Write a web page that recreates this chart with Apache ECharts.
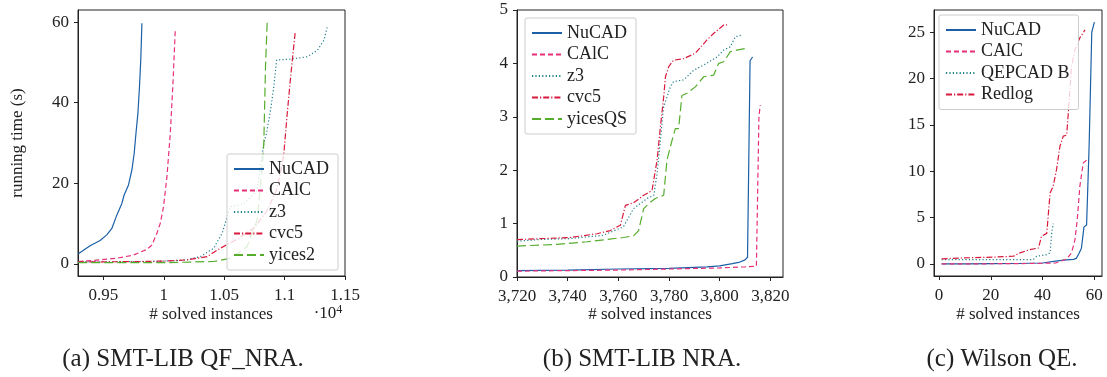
<!DOCTYPE html>
<html>
<head>
<meta charset="utf-8">
<script src="https://cdn.jsdelivr.net/npm/echarts@6/dist/echarts.min.js"></script>
<style>
  html, body { margin: 0; padding: 0; background: #fff; }
  #chart { width: 1107px; height: 377px; }
</style>
</head>
<body>
<div id="chart"></div>
<script>
// (a) SMT-LIB QF_NRA
const qfnraNuCAD = [[9293,2.5],[9390,4.5],[9473,5.8],[9528,7.2],[9570,8.8],[9611,12.1],[9653,15],[9672,17.1],[9708,19.6],[9736,23.3],[9755,27.4],[9771,32.8],[9786,37.4],[9799,44],[9810,51],[9819,59.7]]
const qfnraCAlC = [[9292,0.6],[9473,1.0],[9611,1.4],[9749,2.2],[9860,3.6],[9902,4.7],[9943,7.6],[9971,10.1],[9998,14.2],[10026,21.6],[10054,32.4],[10076,44.8],[10095,58.0]]
const qfnraZ3 = [[9292,0.5],[9600,0.55],[9900,0.6],[10100,0.8],[10200,1.1],[10303,1.8],[10413,3.9],[10483,7.6],[10524,11.7],[10552,14.2],[10662,14.9],[10773,18.3],[10828,29.9],[10850,32.4],[10884,38.2],[10911,44],[10934,50.6],[11050,50.8],[11188,51.4],[11271,53],[11326,55.5],[11356,59.2]]
const qfnraCvc5 = [[9292,0.5],[9700,0.55],[10000,0.7],[10192,1.0],[10358,1.8],[10469,3.9],[10600,6],[10750,9],[10850,13],[10930,18],[10970,23],[10994,27.4],[11022,37.4],[11050,46.4],[11064,50.6],[11088,57.5]]
const qfnraYices2 = [[9292,0.3],[10000,0.3],[10413,0.6],[10552,1.4],[10690,4.3],[10773,10.9],[10815,24.1],[10828,29.9],[10842,48.9],[10856,60.1]]
const qfnraXTicks = [9500, 10000, 10500, 11000, 11500]
const qfnraYTicks = [0, 20, 40, 60]

// (b) SMT-LIB NRA
const nraNuCAD = [[3720,0.12],[3740,0.13],[3760,0.15],[3780,0.16],[3795,0.19],[3800,0.21],[3805,0.25],[3808,0.28],[3810,0.32],[3811,0.37],[3812,4.05],[3813,4.12]]
const nraCAlC = [[3720,0.11],[3760,0.13],[3790,0.16],[3800,0.17],[3810,0.19],[3814.5,0.2],[3815.5,3.0],[3816,3.22]]
const nraZ3 = [[3720,0.67],[3728,0.7],[3741,0.72],[3754,0.78],[3762,0.94],[3763.4,1.06],[3766,1.28],[3771.3,1.47],[3774,1.53],[3775.3,1.94],[3776.6,2.56],[3777.9,3.19],[3779.2,3.37],[3780.5,3.56],[3781.8,3.66],[3785.8,3.69],[3789.7,3.87],[3793.7,3.97],[3799,4.12],[3801.6,4.25],[3804.2,4.31],[3806.2,4.5],[3808.8,4.53]]
const nraCvc5 = [[3720,0.7],[3741,0.74],[3751.6,0.81],[3756.8,0.87],[3760.8,0.97],[3762.8,1.34],[3766,1.39],[3770,1.53],[3773.3,1.62],[3775.3,2.19],[3776.6,2.81],[3777.9,3.37],[3778.6,3.75],[3779.9,3.94],[3781.8,4.06],[3785.8,4.09],[3790.4,4.19],[3795,4.44],[3797.6,4.56],[3801.6,4.72],[3802.9,4.72]]
const nraYicesQS = [[3720,0.58],[3735.8,0.61],[3747.6,0.66],[3762,0.74],[3766,0.77],[3768,0.87],[3770,1.28],[3772.6,1.4],[3774.6,1.47],[3777.9,1.53],[3779.2,2.19],[3781.2,2.56],[3782.5,2.78],[3783.8,2.78],[3785.1,3.4],[3787.1,3.44],[3790.4,3.56],[3793.7,3.75],[3797.6,3.78],[3799.6,4.0],[3801.6,4.03],[3804.2,4.22],[3806.8,4.25],[3810.1,4.28]]
const nraXTicks = [3720, 3740, 3760, 3780, 3800, 3820]

// (c) Wilson QE
const wilsonNuCAD = [[1,0],[10,0.01],[20,0.03],[30,0.05],[40,0.1],[45,0.3],[48,0.42],[52,0.5],[53,0.6],[54,1.1],[55,1.7],[56,4.0],[57,4.2],[58,13],[59,25],[60,26.1]]
const wilsonCAlC = [[1,0],[20,0.02],[35,0.05],[45,0.1],[47,0.3],[49.3,0.54],[51.2,1.2],[52.5,2.6],[53.4,4.8],[54.4,8.4],[55.7,10.9],[57,11.2]]
const wilsonQEPCAD = [[1,0.47],[20,0.47],[36.4,0.47],[37.7,0.83],[41.6,1.0],[42.9,1.2],[43.5,3.3],[44.1,4.35]]
const wilsonRedlog = [[1,0.55],[9.4,0.65],[22.3,0.75],[28.7,0.83],[31.3,1.2],[35.1,1.55],[38.4,1.72],[39.6,3.0],[41.6,3.3],[42.9,7.65],[44.1,8.4],[45.4,10.2],[46.7,12.7],[48,13.8],[49.3,13.9],[50.3,17.7],[51.2,21.3],[52.5,23.1],[54.4,24.4],[56.4,25.25]]
const wilsonXTicks = [0, 20, 40, 60]
const wilsonYTicks = [0, 5, 10, 15, 20, 25]

const FONT = "Liberation Serif"
const INK = "#222"
const styles = {
  NuCAD: { color: "#1b5fa7", type: "solid" },
  CAlC: { color: "#e6307a", type: [5, 3] },
  z3: { color: "#20808a", type: [1.2, 2.2] },
  cvc5: { color: "#d81a3c", type: [6, 2, 1.2, 2] },
  yices: { color: "#55ad2c", type: [9, 4] },
}

const chart = echarts.init(document.getElementById("chart"))

const mkSeries = (name, data, idx, style) => ({
  name,
  type: "line",
  data,
  xAxisIndex: idx,
  yAxisIndex: idx,
  symbol: "none",
  clip: true,
  lineStyle: { color: style.color, type: style.type, width: 1.2 },
  itemStyle: { color: style.color },
})

const mkLegend = (left, top, names) => ({
  orient: "vertical",
  left,
  top,
  data: names,
  itemWidth: 30,
  itemHeight: 14,
  itemGap: 3.5,
  padding: [6, 9, 6, 6],
  backgroundColor: "rgba(255,255,255,0.8)",
  borderColor: "#cccccc",
  borderWidth: 1,
  borderRadius: 2,
  selectedMode: false,
  // hide the marker dot, keep only the line sample
  itemStyle: { color: "rgba(0,0,0,0)", borderWidth: 0, opacity: 0 },
  textStyle: { fontFamily: FONT, fontSize: 18, color: INK, lineHeight: 16 },
})

const axisCommon = {
  type: "value",
  axisLine: { show: true, onZero: false, lineStyle: { color: INK, width: 1 } },
  axisTick: { show: true, inside: false, length: 4, lineStyle: { color: INK } },
  splitLine: { show: false },
}

const mkX = (idx, min, max, ticks, fmt) => ({
  ...axisCommon,
  gridIndex: idx,
  min,
  max,
  axisTick: { ...axisCommon.axisTick, customValues: ticks },
  axisLabel: {
    customValues: ticks,
    formatter: fmt,
    margin: 11,
    fontFamily: FONT,
    fontSize: 17,
    color: INK,
  },
})

const mkY = (idx, min, max, ticks) => ({
  ...axisCommon,
  gridIndex: idx,
  min,
  max,
  axisTick: { ...axisCommon.axisTick, customValues: ticks },
  axisLabel: {
    customValues: ticks,
    margin: 9,
    fontFamily: FONT,
    fontSize: 17,
    color: INK,
  },
})

const textEl = (x, y, text, size, extra) => ({
  type: "text",
  x,
  y,
  ...(extra || {}),
  style: {
    text,
    fontFamily: FONT,
    fontSize: size,
    fill: INK,
    textAlign: "center",
    textVerticalAlign: "middle",
  },
})

const option = {
  animation: false,
  backgroundColor: "#fff",
  grid: [
    { left: 78, top: 10, width: 267, height: 266, show: true, borderColor: INK, borderWidth: 1, backgroundColor: "transparent" },
    { left: 517, top: 10, width: 266, height: 267, show: true, borderColor: INK, borderWidth: 1, backgroundColor: "transparent" },
    { left: 934, top: 10, width: 168, height: 266, show: true, borderColor: INK, borderWidth: 1, backgroundColor: "transparent" },
  ],
  xAxis: [
    mkX(0, 9290, 11500, qfnraXTicks, (v) => String(+(v / 10000).toFixed(2))),
    mkX(1, 3720, 3825, nraXTicks, (v) => v.toLocaleString("en-US")),
    mkX(2, -1.95, 62.95, wilsonXTicks, (v) => String(v)),
  ],
  yAxis: [
    mkY(0, -3, 63, qfnraYTicks),
    mkY(1, 0, 5, [0, 1, 2, 3, 4, 5]),
    mkY(2, -1.3, 27.4, wilsonYTicks),
  ],
  legend: [
    mkLegend(227, 154, ["NuCAD", "CAlC", "z3", "cvc5", "yices2"]),
    mkLegend(525, 18, ["NuCAD", "CAlC", "z3", "cvc5", "yicesQS"]),
    mkLegend(939, 15, ["NuCAD", "CAlC", "QEPCAD B", "Redlog"]),
  ],
  series: [
    mkSeries("NuCAD", qfnraNuCAD, 0, styles.NuCAD),
    mkSeries("CAlC", qfnraCAlC, 0, styles.CAlC),
    mkSeries("z3", qfnraZ3, 0, styles.z3),
    mkSeries("cvc5", qfnraCvc5, 0, styles.cvc5),
    mkSeries("yices2", qfnraYices2, 0, styles.yices),

    mkSeries("NuCAD", nraNuCAD, 1, styles.NuCAD),
    mkSeries("CAlC", nraCAlC, 1, styles.CAlC),
    mkSeries("z3", nraZ3, 1, styles.z3),
    mkSeries("cvc5", nraCvc5, 1, styles.cvc5),
    mkSeries("yicesQS", nraYicesQS, 1, styles.yices),

    mkSeries("NuCAD", wilsonNuCAD, 2, styles.NuCAD),
    mkSeries("CAlC", wilsonCAlC, 2, styles.CAlC),
    mkSeries("QEPCAD B", wilsonQEPCAD, 2, styles.z3),
    mkSeries("Redlog", wilsonRedlog, 2, styles.cvc5),
  ],
  graphic: [
    textEl(18, 143, "running time (s)", 17, { rotation: Math.PI / 2 }),
    textEl(211, 315, "# solved instances", 17),
    textEl(650, 315, "# solved instances", 17),
    textEl(1018, 315, "# solved instances", 17),
    {
      type: "text",
      x: 328,
      y: 314,
      style: {
        text: "{a|·10}{b|4}",
        textAlign: "center",
        textVerticalAlign: "middle",
        rich: {
          a: { fontFamily: FONT, fontSize: 17, fill: INK },
          b: { fontFamily: FONT, fontSize: 12, fill: INK, padding: [0, 0, 8, 0] },
        },
      },
    },
    textEl(183, 359, "(a) SMT-LIB QF_NRA.", 25),
    textEl(642, 359, "(b) SMT-LIB NRA.", 25),
    textEl(1002, 359, "(c) Wilson QE.", 25),
  ],
}

chart.setOption(option)

window.addEventListener("resize", () => chart.resize())
</script>
</body>
</html>
